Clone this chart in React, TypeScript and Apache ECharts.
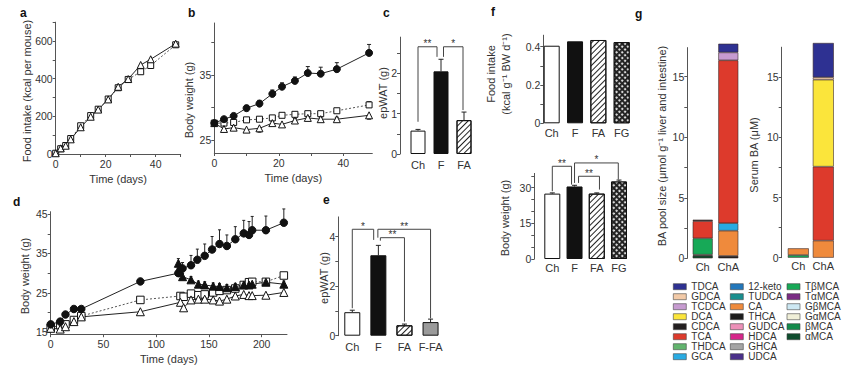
import React, { useEffect, useRef } from 'react';
import * as echarts from 'echarts';

// ---------- Panel a: cumulative food intake ----------
const aDays = [0, 2, 4, 6, 10, 14, 17, 21, 25, 29, 34, 38, 48];
const aTriangle = [4, 30, 44, 78, 142, 198, 236, 290, 357, 398, 473, 503, 586];
const aSquare = [4, 28, 45, 82, 150, 204, 238, 292, 352, 396, 437, 470, 580];
const aXTicks = [0, 10, 20, 30, 40, 50];
const aXLabels = [0, 20, 40];
const aYTicks = [0, 100, 200, 300, 400, 500, 600, 700];
const aYLabels = [0, 200, 400, 600];

// ---------- Panel b: body weight ----------
const bDays = [0, 3, 6, 10, 14, 18, 21, 25, 29, 33, 38, 48];
const bCircle = [27.6, 28.2, 28.7, 29.9, 30.6, 32.1, 33.2, 34.1, 35.3, 35.2, 35.9, 38.4];
const bCircleErr = [0.3, 0.3, 0.3, 0.4, 0.5, 0.6, 0.6, 0.6, 1.0, 1.0, 1.0, 1.3];
const bSquare = [27.6, 27.6, 27.7, 28.1, 28.2, 28.4, 28.8, 28.95, 29.05, 29.05, 29.5, 30.4];
const bSquareErr = [0.2, 0.3, 0.3, 0.3, 0.3, 0.3, 0.3, 0.3, 0.3, 0.3, 0.3, 0.5];
const bTriangle = [27.6, 26.7, 26.9, 26.6, 26.8, 27.6, 27.4, 28.0, 28.4, 28.2, 28.2, 28.8];
const bTriangleErr = [0.2, -0.3, -0.3, -0.3, -0.6, 0.3, -0.3, 0.3, 0.3, 0.3, 0.3, -0.6];
const bXTicks = [0, 10, 20, 30, 40];
const bXLabels = [0, 20, 40];
const bYTicks = [25, 30, 35, 40];
const bYLabels = [25, 35];

// ---------- Panel c: epWAT ----------
const cCats = ['Ch', 'F', 'FA'];
const cValues = [0.58, 2.05, 0.84];
const cErr = [0.03, 0.3, 0.2];
const cYTicks = [0, 0.5, 1, 1.5, 2, 2.5];
const cYLabels = [0, 1, 2];
const cBrackets = [
  { from: 0, to: 1, level: 2.66, yFrom: 0.8, yTo: 2.41, label: '**', dxFrom: 0, dxTo: -4 },
  { from: 1, to: 2, level: 2.66, yFrom: 2.41, yTo: 1.09, label: '*', dxFrom: 2.5, dxTo: -1 },
];

// ---------- Panel d: long-term body weight ----------
const dCircleDays = [0, 9, 14, 22, 29, 85, 121, 123, 125, 133, 139, 146, 153, 160, 167, 175, 183, 188, 191, 204, 221];
const dCircle = [17.0, 17.7, 19.5, 20.9, 20.9, 27.9, 30.0, 30.8, 31.2, 32.0, 33.4, 34.4, 36.0, 37.4, 36.9, 38.6, 40.1, 39.7, 40.9, 40.9, 42.8];
const dCircleErr = [0.3, 0.3, 0.3, 0.4, 0.4, 0.6, 1.2, 1.5, 1.5, 2.5, 2.7, 3.0, 3.3, 3.6, 2.8, 3.2, 3.3, 3.4, 3.5, 3.6, 3.5];
const dOpenDays = [0, 9, 14, 22, 29, 85, 123, 126, 133, 140, 146, 154, 160, 167, 175, 183, 188, 191, 204, 221];
const dSquare = [16.1, 16.8, 17.0, 18.1, 19.1, 23.2, 24.2, 24.0, 24.8, 24.4, 24.6, 25.1, 25.5, 25.7, 26.1, 27.0, 27.7, 27.8, 27.8, 29.4];
const dSquareErr = [0.2, 0.2, 0.2, 0.3, 0.3, 0.4, 0.4, 0.4, 0.5, 0.5, 0.5, 0.5, 0.5, 0.5, 0.5, 0.5, 0.5, 0.5, 0.5, 0.6];
const dTriangleOpen = [16.0, 15.8, 16.4, 17.7, 18.9, 20.2, 22.6, 21.2, 23.2, 23.4, 23.4, 23.2, 22.9, 23.4, 24.2, 24.6, 24.3, 24.3, 24.4, 25.1];
const dFilledDays = [121, 125, 133, 140, 146, 154, 160, 167, 175, 183, 188, 191, 204, 221];
const dTriangleFilled = [32.5, 29.1, 28.3, 27.2, 27.0, 26.7, 26.6, 26.3, 26.6, 27.0, 27.0, 27.2, 27.7, 27.2];
const dTriangleFilledErr = [1.2, 0.8, 0.8, 0.8, 0.8, 0.8, 0.8, 0.8, 0.8, 0.8, 0.8, 0.8, 0.8, 0.8];
const dXTicks = [0, 50, 100, 150, 200];
const dYTicks = [15, 20, 25, 30, 35, 40, 45];
const dYLabels = [15, 25, 35, 45];

// ---------- Panel e: epWAT ----------
const eCats = ['Ch', 'F', 'FA', 'F-FA'];
const eValues = [0.95, 3.25, 0.42, 0.55];
const eErr = [0.08, 0.4, 0.05, 0.12];
const eYTicks = [0, 1, 2, 3, 4];
const eYLabels = [0, 2, 4];
const eBrackets = [
  { from: 0, to: 1, level: 4.3, yFrom: 1.11, yTo: 3.87, label: '*', dxFrom: 0, dxTo: -4.7 },
  { from: 1, to: 2, level: 3.96, yFrom: 3.84, yTo: 0.57, label: '**', dxFrom: 2, dxTo: 0 },
  { from: 1, to: 3, level: 4.3, yFrom: 3.96, yTo: 0.7, label: '**', dxFrom: -0.5, dxTo: 0 },
];

// ---------- Panel f ----------
const fCats = ['Ch', 'F', 'FA', 'FG'];
const fIntake = [0.405, 0.428, 0.435, 0.424];
const fIntakeYTicks = [0, 0.1, 0.2, 0.3, 0.4];
const fIntakeYLabels = [0, 0.2, 0.4];
const fWeight = [27.5, 30.5, 27.5, 32.6];
const fWeightErr = [0.3, 0.5, 0.3, 0.6];
const fWeightYTicks = [0, 5, 10, 15, 20, 25, 30, 35];
const fWeightYLabels = [0, 15, 30];
const fBrackets = [
  { from: 0, to: 1, level: 39.0, yFrom: 28.5, yTo: 31.3, label: '**', dxFrom: 0, dxTo: -3 },
  { from: 1, to: 3, level: 40.4, yFrom: 32.0, yTo: 33.4, label: '*', dxFrom: 0, dxTo: -0.7 },
  { from: 1, to: 2, level: 34.8, yFrom: 32.0, yTo: 29.2, label: '**', dxFrom: 4, dxTo: 2.7 },
];

// ---------- Panel g: bile acids ----------
const baCats = ['Ch', 'ChA'];
const gYTicks = [0, 2.5, 5, 7.5, 10, 12.5, 15];
const gYLabels = [0, 5, 10, 15];
// stacked bottom -> top, values for [Ch, ChA]
const poolSize: Record<string, (number | null)[]> = {
  'αMCA': [0.22, null],
  THCA: [0.08, 0.2],
  CA: [null, 2.08],
  'TβMCA': [1.35, null],
  GCA: [null, 0.62],
  TCA: [1.42, 13.45],
  CDCA: [0.12, null],
  TCDCA: [null, 0.65],
  TDCA: [null, 0.72],
};
const serumBA: Record<string, (number | null)[]> = {
  'TβMCA': [0.22, null],
  CA: [0.56, 1.42],
  TCA: [null, 6.15],
  DCA: [null, 7.23],
  GDCA: [null, 0.2],
  TDCA: [null, 2.85],
};
const legendCol1 = ['TDCA', 'GDCA', 'TCDCA', 'DCA', 'CDCA', 'TCA', 'THDCA', 'GCA'];
const legendCol2 = ['12-keto', 'TUDCA', 'CA', 'THCA', 'GUDCA', 'HDCA', 'GHCA', 'UDCA'];
const legendCol3 = ['TβMCA', 'TαMCA', 'GβMCA', 'GαMCA', 'βMCA', 'αMCA'];
const acidColors: Record<string, string> = {
  TDCA: '#2e3192', GDCA: '#f2caa8', TCDCA: '#c69bd0', DCA: '#fbe53b', CDCA: '#231f20',
  TCA: '#dd3a2c', THDCA: '#62b46e', GCA: '#29abe2', '12-keto': '#2277bb', TUDCA: '#1a8f8e',
  CA: '#ef8a3c', THCA: '#1d1d1d', GUDCA: '#ec90b8', HDCA: '#d6268a', GHCA: '#a5a5a5',
  UDCA: '#4a2f8a', 'TβMCA': '#17a957', 'TαMCA': '#7a2b84', 'GβMCA': '#cde8f3', 'GαMCA': '#f0efd8',
  'βMCA': '#138a4b', 'αMCA': '#0f4d2e',
};

// ---------- axis titles ----------
const yTitles = [
  { text: 'Food intake (kcal per mouse)', x: 27, y: 91 },
  { text: 'Body weight (g)', x: 189, y: 100 },
  { text: 'epWAT (g)', x: 383, y: 93 },
  { text: 'Body weight (g)', x: 25, y: 276 },
  { text: 'epWAT (g)', x: 323.5, y: 278 },
  { text: 'Food intake\n(kcal g⁻¹ BW d⁻¹)', x: 498, y: 74 },
  { text: 'Body weight (g)', x: 505, y: 218 },
  { text: 'BA pool size (μmol g⁻¹ liver and intestine)', x: 661.5, y: 146 },
  { text: 'Serum BA (μM)', x: 753.5, y: 155 },
];

// ---------- styling ----------
const FONT = '"Liberation Sans", Arial, Helvetica, sans-serif';
const TXT = '#333';
const AX = '#555';

const hatch = { symbol: 'rect', symbolSize: 1, color: '#222', dashArrayX: [1, 0], dashArrayY: [1, 2.4], rotation: -Math.PI / 4 };
const cross = { symbol: 'circle', symbolSize: 1, color: '#fff', dashArrayX: [1.8, 1.2], dashArrayY: [1.8, 1.2], rotation: Math.PI / 4 };

function barStyle(cat: string): any {
  const base = { borderColor: '#111', borderWidth: 1 };
  if (cat === 'F') return { ...base, color: '#111' };
  if (cat === 'FA') return { ...base, color: '#fff', decal: hatch };
  if (cat === 'FG') return { ...base, color: '#222', decal: cross };
  if (cat === 'F-FA') return { ...base, color: '#9a9a9a' };
  return { ...base, color: '#fff' };
}

function yAxisDef(gridIndex: number, min: number, max: number, ticks: number[], labels: number[], offset = 0): any {
  return {
    type: 'value', gridIndex, min, max, offset,
    axisLine: { show: true, onZero: false, lineStyle: { color: AX, width: 1 } },
    axisTick: { show: true, length: 3, customValues: ticks, lineStyle: { color: AX } },
    axisLabel: { customValues: labels, fontSize: 10.5, color: TXT, fontFamily: FONT, margin: 3 },
    splitLine: { show: false },
  };
}

function timeAxisDef(gridIndex: number, min: number, max: number, ticks: number[], labels: number[]): any {
  return {
    type: 'value', gridIndex, min, max, name: 'Time (days)', nameLocation: 'middle', nameGap: 19,
    nameTextStyle: { fontSize: 11, color: TXT, fontFamily: FONT },
    axisLine: { show: true, onZero: false, lineStyle: { color: AX, width: 1 } },
    axisTick: { show: true, length: 3, customValues: ticks, lineStyle: { color: AX } },
    axisLabel: { customValues: labels, fontSize: 10.5, color: TXT, fontFamily: FONT, margin: 4 },
    splitLine: { show: false },
  };
}

function catAxisDef(gridIndex: number, min: number, max: number, cats: string[], margin: number): any {
  return {
    type: 'value', gridIndex, min, max,
    axisLine: { show: false, onZero: false }, axisTick: { show: false }, splitLine: { show: false },
    axisLabel: {
      customValues: cats.map((_, i) => i), formatter: (v: number) => cats[Math.round(v)] ?? '',
      fontSize: 11, color: TXT, fontFamily: FONT, margin,
    },
  };
}

function bandAxisDef(gridIndex: number, cats: string[], margin: number): any {
  return {
    type: 'category', gridIndex, data: cats, boundaryGap: true,
    axisLine: { show: false, onZero: false }, axisTick: { show: false }, splitLine: { show: false },
    axisLabel: { fontSize: 11, color: TXT, fontFamily: FONT, margin, interval: 0 },
  };
}

function errorSeries(axis: number, xs: number[], ys: number[], errs: number[], cap: number): any {
  return {
    type: 'custom', xAxisIndex: axis, yAxisIndex: axis, z: 1, silent: true,
    data: xs.map((x, i) => [x, ys[i], errs[i]]),
    renderItem: (params: any, api: any) => {
      const x = api.value(0), y = api.value(1), e = api.value(2);
      const p0 = api.coord([x, y]);
      const p1 = api.coord([x, y + e]);
      const st = { stroke: '#222', lineWidth: 1 };
      return {
        type: 'group', children: [
          { type: 'line', shape: { x1: p0[0], y1: p0[1], x2: p1[0], y2: p1[1] }, style: st },
          { type: 'line', shape: { x1: p1[0] - cap, y1: p1[1], x2: p1[0] + cap, y2: p1[1] }, style: st },
        ],
      };
    },
  };
}

function bracketSeries(axis: number, list: any[]): any {
  return {
    type: 'custom', xAxisIndex: axis, yAxisIndex: axis, z: 5, silent: true,
    data: list.map((b) => [b.from, b.level, b.to]),
    renderItem: (params: any, api: any) => {
      const b = list[params.dataIndex];
      const pA = api.coord([b.from, b.level]);
      const pB = api.coord([b.to, b.level]);
      const a0 = api.coord([b.from, b.yFrom]);
      const b0 = api.coord([b.to, b.yTo]);
      const xA = pA[0] + b.dxFrom;
      const xB = pB[0] + b.dxTo;
      const yL = pA[1];
      return {
        type: 'group', children: [
          { type: 'polyline', shape: { points: [[xA, a0[1]], [xA, yL], [xB, yL], [xB, b0[1]]] }, style: { stroke: '#444', lineWidth: 1, fill: null } },
          { type: 'text', x: (xA + xB) / 2, y: yL - 3, style: { text: b.label, fontSize: 10, fill: '#333', align: 'center', verticalAlign: 'middle', fontFamily: FONT } },
        ],
      };
    },
  };
}

function lineSeries(axis: number, xs: number[], ys: number[], symbol: string, size: number, filled: boolean, dotted: boolean): any {
  return {
    type: 'line', xAxisIndex: axis, yAxisIndex: axis, z: 3, silent: true,
    data: xs.map((x, i) => [x, ys[i]]),
    symbol, symbolSize: size, showAllSymbol: true,
    lineStyle: dotted ? { color: '#555', width: 1, type: [2, 2] } : { color: '#222', width: 1 },
    itemStyle: { color: filled ? '#111' : '#fff', borderColor: '#111', borderWidth: 1 },
    emphasis: { disabled: true },
  };
}

function barSeries(axis: number, cats: string[], values: number[], width: number): any {
  return {
    type: 'bar', xAxisIndex: axis, yAxisIndex: axis, z: 2, silent: true, barWidth: width,
    data: values.map((v, i) => ({ value: [i, v], itemStyle: barStyle(cats[i]) })),
    emphasis: { disabled: true },
  };
}

function buildOption(): any {
  const grid = [
    { left: 55.7, top: 22.2, width: 125, height: 131.8 }, // a
    { left: 214.3, top: 23, width: 158, height: 130 }, // b
    { left: 400, top: 37.1, width: 75.5, height: 116.9 }, // c
    { left: 50.7, top: 211.7, width: 236.3, height: 122.5 }, // d
    { left: 338.3, top: 216.9, width: 105.3, height: 118.8 }, // e
    { left: 543.3, top: 35.2, width: 88.9, height: 88.1 }, // f top
    { left: 534.3, top: 173.4, width: 94.7, height: 85.6 }, // f bottom
    { left: 689.9, top: 47.6, width: 51.2, height: 210.7 }, // g left (bands)
    { left: 785.8, top: 47.2, width: 50, height: 210.5 }, // g right (bands)
  ];

  const xAxis = [
    timeAxisDef(0, 0, 50, aXTicks, aXLabels),
    timeAxisDef(1, 0, 49, bXTicks, bXLabels),
    catAxisDef(2, -0.783, 2.5, cCats, 5.5),
    timeAxisDef(3, 0, 224, dXTicks, dXTicks),
    catAxisDef(4, -0.536, 3.5, eCats, 6),
    catAxisDef(5, -0.36, 3.45, fCats, 4),
    catAxisDef(6, -0.81, 3.45, fCats, 3),
    bandAxisDef(7, baCats, 3),
    bandAxisDef(8, baCats, 3),
  ];

  const yAxis = [
    yAxisDef(0, 0, 700, aYTicks, aYLabels),
    yAxisDef(1, 23, 43, bYTicks, bYLabels),
    yAxisDef(2, 0, 2.9, cYTicks, cYLabels),
    yAxisDef(3, 14.5, 45.6, dYTicks, dYLabels),
    yAxisDef(4, 0, 4.8, eYTicks, eYLabels),
    yAxisDef(5, 0, 0.46, fIntakeYTicks, fIntakeYLabels),
    yAxisDef(6, 0, 36, fWeightYTicks, fWeightYLabels),
    yAxisDef(7, 0, 17.4, gYTicks, gYLabels, 2.6),
    yAxisDef(8, 0, 17.5, gYTicks, gYLabels, 4.1),
  ];

  const series: any[] = [
    // a
    lineSeries(0, aDays, aSquare, 'rect', 6, false, true),
    lineSeries(0, aDays, aTriangle, 'triangle', 7, false, false),
    // b
    errorSeries(1, bDays, bSquare, bSquareErr, 2),
    errorSeries(1, bDays, bTriangle, bTriangleErr, 2),
    errorSeries(1, bDays, bCircle, bCircleErr, 2),
    lineSeries(1, bDays, bSquare, 'rect', 6, false, true),
    lineSeries(1, bDays, bTriangle, 'triangle', 7, false, false),
    lineSeries(1, bDays, bCircle, 'circle', 7, true, false),
    // c
    barSeries(2, cCats, cValues, 15),
    errorSeries(2, [0, 1, 2], cValues, cErr, 2.5),
    bracketSeries(2, cBrackets),
    // d
    errorSeries(3, dOpenDays, dSquare, dSquareErr, 1.5),
    errorSeries(3, dFilledDays, dTriangleFilled, dTriangleFilledErr, 1.5),
    errorSeries(3, dCircleDays, dCircle, dCircleErr, 1.5),
    lineSeries(3, dOpenDays, dSquare, 'rect', 7.5, false, true),
    lineSeries(3, dOpenDays, dTriangleOpen, 'triangle', 8, false, false),
    lineSeries(3, dFilledDays, dTriangleFilled, 'triangle', 8, true, false),
    lineSeries(3, dCircleDays, dCircle, 'circle', 7.5, true, false),
    // e
    barSeries(4, eCats, eValues, 16),
    errorSeries(4, [0, 1, 2, 3], eValues, eErr, 2.5),
    bracketSeries(4, eBrackets),
    // f
    barSeries(5, fCats, fIntake, 16),
    barSeries(6, fCats, fWeight, 16),
    errorSeries(6, [0, 1, 2, 3], fWeight, fWeightErr, 2.5),
    bracketSeries(6, fBrackets),
  ];

  const gBar = (axis: number, stack: string, name: string, vals: (number | null)[], width: number) => ({
    type: 'bar', name, xAxisIndex: axis, yAxisIndex: axis, stack, barWidth: width, clip: false, silent: true,
    data: vals.map((v) => (v == null ? '-' : v)),
    itemStyle: { color: acidColors[name], borderColor: '#3a2a2a', borderWidth: 0.6 },
    emphasis: { disabled: true },
  });
  Object.keys(poolSize).forEach((n) => series.push(gBar(7, 'pool', n, poolSize[n], 20)));
  Object.keys(serumBA).forEach((n) => series.push(gBar(8, 'serum', n, serumBA[n], 21)));
  [...legendCol1, ...legendCol2, ...legendCol3].forEach((n) => {
    if (!(n in poolSize) && !(n in serumBA)) series.push(gBar(7, 'pool', n, [null, null], 20));
  });

  const legend = [legendCol1, legendCol2, legendCol3].map((names, i) => ({
    orient: 'vertical', left: [673, 730, 786.7][i], top: 281.7, padding: 0,
    itemWidth: 13, itemHeight: 6, itemGap: 0, icon: 'rect', selectedMode: false,
    data: names,
    itemStyle: { borderColor: '#444', borderWidth: 0.6 },
    textStyle: { fontSize: 10, color: TXT, fontFamily: FONT, lineHeight: 10, padding: 0 },
  }));

  const letter = (t: string, x: number, y: number) => ({
    type: 'text', x, y, style: { text: t, fontSize: 12, fontWeight: 'bold', fill: '#111', fontFamily: FONT, align: 'left', verticalAlign: 'middle' },
  });
  const yTitle = (t: { text: string; x: number; y: number }) => ({
    type: 'text', x: t.x, y: t.y, rotation: Math.PI / 2, silent: true,
    style: { text: t.text, fontSize: 11, fill: TXT, fontFamily: FONT, align: 'center', verticalAlign: 'middle', lineHeight: 15 },
  });

  return {
    animation: false,
    backgroundColor: '#fff',
    textStyle: { fontFamily: FONT },
    grid, xAxis, yAxis, series, legend,
    graphic: [
      letter('a', 20, 12.5),
      letter('b', 188, 13),
      letter('c', 383, 13),
      letter('d', 13, 202),
      letter('e', 323, 200),
      letter('f', 491, 12),
      letter('g', 635, 14),
      ...yTitles.map(yTitle),
    ],
  };
}

export default function App() {
  const ref = useRef<HTMLDivElement>(null);
  useEffect(() => {
    const chart = echarts.init(ref.current!, null, { renderer: 'svg', width: 860, height: 372 });
    chart.setOption(buildOption());
    return () => chart.dispose();
  }, []);
  return <div ref={ref} style={{ position: 'fixed', left: 0, top: 0, width: 860, height: 372, background: '#fff' }} />;
}
